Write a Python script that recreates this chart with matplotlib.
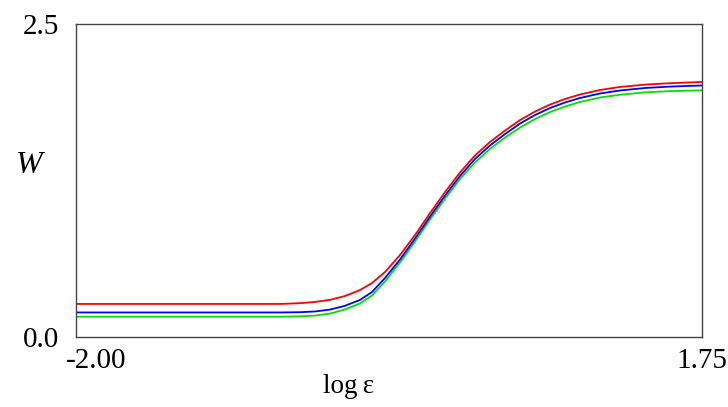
import matplotlib
matplotlib.use('Agg')
import matplotlib.pyplot as plt
import matplotlib.transforms as mtransforms

# values
log_eps = [-2.000, -1.257, -0.778, -0.658, -0.568, -0.478, -0.389, -0.299,
           -0.227, -0.149, -0.059, 0.031, 0.121, 0.211, 0.300, 0.390, 0.480,
           0.570, 0.660, 0.750, 0.840, 0.929, 1.019, 1.139, 1.259, 1.409,
           1.558, 1.750]
w_red = [0.264, 0.264, 0.264, 0.270, 0.280, 0.297, 0.327, 0.375,
         0.431, 0.519, 0.655, 0.815, 0.990, 1.158, 1.314, 1.450, 1.558,
         1.649, 1.733, 1.801, 1.857, 1.901, 1.937, 1.973, 1.997, 2.016,
         2.027, 2.037]
w_blue = [0.196, 0.196, 0.196, 0.198, 0.204, 0.219, 0.249, 0.296,
          0.359, 0.471, 0.619, 0.787, 0.962, 1.130, 1.286, 1.422, 1.530,
          1.621, 1.705, 1.773, 1.829, 1.873, 1.909, 1.945, 1.969, 1.989,
          2.000, 2.009]
w_green = [0.162, 0.162, 0.162, 0.165, 0.171, 0.187, 0.220, 0.268,
           0.331, 0.443, 0.595, 0.763, 0.939, 1.106, 1.262, 1.394, 1.502,
           1.593, 1.673, 1.741, 1.797, 1.841, 1.877, 1.913, 1.935, 1.954,
           1.964, 1.970]

x_ticks = [-2.00, 1.75]
x_ticklabels = ['-2.00', '1.75']
y_ticks = [0.0, 2.5]
y_ticklabels = ['0.0', '2.5']

plt.rcParams['font.family'] = ['Liberation Serif', 'DejaVu Serif']

fig = plt.figure(figsize=(7.28, 4.07), dpi=100)
ax = fig.add_axes([76/728, 1-337/407, 626/728, 313/407])

ax.plot(log_eps, w_green, color='#00e000', lw=1.3, solid_joinstyle='round')
ax.plot(log_eps, w_blue, color='#0000ff', lw=1.3, solid_joinstyle='round')
ax.plot(log_eps, w_red, color='#ff0000', lw=1.3, solid_joinstyle='round')

ax.set_xlim(-2.00, 1.75)
ax.set_ylim(0.0, 2.5)
ax.set_xticks(x_ticks)
ax.set_xticklabels(x_ticklabels)
ax.set_yticks(y_ticks)
ax.set_yticklabels(y_ticklabels)
ax.tick_params(axis='both', length=0, labelsize=21)
ax.tick_params(axis='x', pad=8)
ax.tick_params(axis='y', pad=12)

# first x label sits a bit to the right of its tick
lbl = ax.get_xticklabels()[0]
lbl.set_transform(lbl.get_transform() + mtransforms.ScaledTranslation(20/100, 0, fig.dpi_scale_trans))

for s in ax.spines.values():
    s.set_color('#444444')
    s.set_linewidth(1.0)

fig.text(349/728, 1-393/407, 'log\u2009\u03b5', ha='center', va='baseline', fontsize=19.5)
fig.text(29/728, 1-166/407, 'W', ha='center', va='center', fontsize=23, style='italic')

fig.savefig('out.png', dpi=100)
